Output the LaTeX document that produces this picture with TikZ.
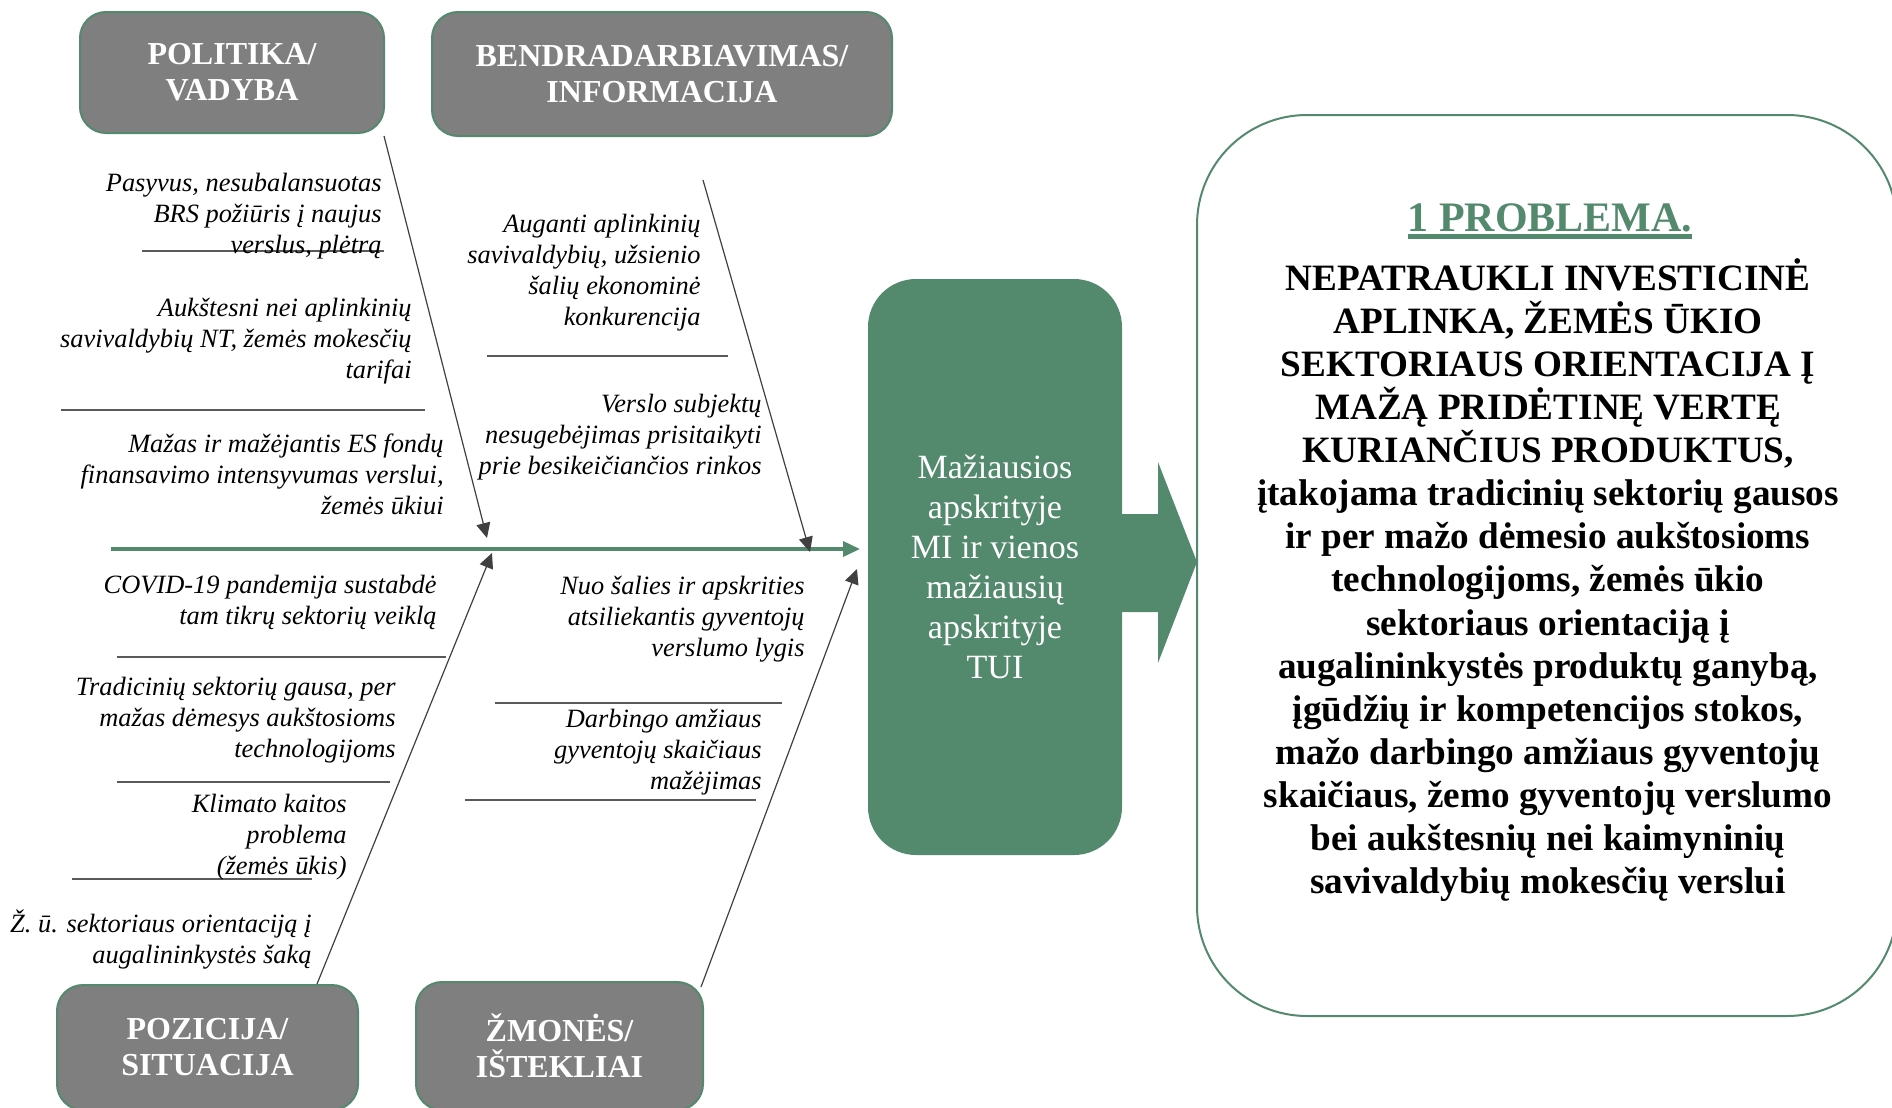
\documentclass[tikz,border=0pt]{standalone}
\usepackage{fontspec}
\setmainfont{Liberation Serif}
\usetikzlibrary{arrows.meta}
\definecolor{fbgreen}{RGB}{83,137,109}
\definecolor{boxgray}{RGB}{127,127,127}
\definecolor{bonegray}{RGB}{64,64,64}
\definecolor{linegray}{RGB}{89,89,89}
\newcommand\myul[1]{\vtop{\hbox{#1}\kern1.2pt\hrule height 2.4pt}}
\begin{document}
\begin{tikzpicture}[x=0.5pt,y=-0.5pt,
  catbox/.style={draw=fbgreen, line width=1pt, fill=boxgray, rounded corners=13pt,
    text=white, font=\bfseries\fontsize{16}{18}\selectfont, align=center, inner sep=0pt},
  cause/.style={font=\itshape\fontsize{13.2}{15.5}\selectfont, align=right, anchor=east, inner sep=0pt, yshift=-1pt},
  sepline/.style={draw=linegray, line width=0.8pt},
  bone/.style={draw=bonegray, line width=0.6pt, -{Triangle[length=7.5pt,width=7pt]}},
  spine/.style={draw=fbgreen, line width=1.8pt, -{Triangle[length=8.5pt,width=7.5pt]}},
]
\useasboundingbox (0,0) rectangle (1892,1108);
\clip (0,0) rectangle (1892,1108);

% category boxes
\node[catbox, minimum width=152pt, minimum height=60.5pt] (pol) at (232,72.5) {POLITIKA/\\VADYBA};
\node[catbox, minimum width=230pt, minimum height=62pt] (ben) at (662,74) {BENDRADARBIAVIMAS/\\INFORMACIJA};
\node[catbox, minimum width=150.5pt, minimum height=62.5pt] (poz) at (207.5,1047.5) {POZICIJA/\\SITUACIJA};
\node[catbox, minimum width=143.5pt, minimum height=64pt] (zmo) at (559.5,1046) {ŽMONĖS/\\IŠTEKLIAI};

% effect box
\node[fill=fbgreen, rounded corners=24pt, minimum width=127pt, minimum height=288pt, inner sep=0pt,
  text=white, font=\fontsize{17}{20}\selectfont, align=center] (eff) at (995,567)
  {Mažiausios\\apskrityje\\MI ir vienos\\mažiausių\\apskrityje\\TUI};

% big arrow
\fill[fbgreen] (1121,514) -- (1158,514) -- (1158,462) -- (1197,562) -- (1158,663) -- (1158,612) -- (1121,612) -- cycle;

% problem box
\node[draw=fbgreen, line width=1pt, rounded corners=55pt, minimum width=350pt, minimum height=450.5pt, inner sep=0pt] (prob) at (1547,565.5) {};
\node[font=\bfseries\fontsize{21}{25}\selectfont, text=fbgreen, anchor=base, inner sep=0pt] (head) at (1550,231) {\myul{1 PROBLEMA.}};
\node[font=\bfseries\fontsize{18.6}{21.55}\selectfont, align=center, inner sep=0pt] (body) at (1548,580)
  {NEPATRAUKLI INVESTICINĖ\\APLINKA, ŽEMĖS ŪKIO\\SEKTORIAUS ORIENTACIJA Į\\MAŽĄ PRIDĖTINĘ VERTĘ\\KURIANČIUS PRODUKTUS,\\
   įtakojama tradicinių sektorių gausos\\ir per mažo dėmesio aukštosioms\\technologijoms, žemės ūkio\\sektoriaus orientaciją į\\
   augalininkystės produktų ganybą,\\įgūdžių ir kompetencijos stokos,\\mažo darbingo amžiaus gyventojų\\skaičiaus, žemo gyventojų verslumo\\
   bei aukštesnių nei kaimyninių\\savivaldybių mokesčių verslui};

% spine and bone coordinates
\coordinate (spS) at (111,549);
\coordinate (spE) at (860,549);
\coordinate (tlS) at (384,136);
\coordinate (tlE) at (487,538);
\coordinate (trS) at (703,180);
\coordinate (trE) at (810,552);
\coordinate (blS) at (317,984);
\coordinate (blE) at (492,553);
\coordinate (brS) at (701,987);
\coordinate (brE) at (857,569);

% separator lines
\coordinate (h1a) at (142,251); \coordinate (h1b) at (384,251);
\coordinate (h2a) at (487,356); \coordinate (h2b) at (728,356);
\coordinate (h3a) at (61,410);  \coordinate (h3b) at (425,410);
\coordinate (h4a) at (117,657); \coordinate (h4b) at (446,657);
\coordinate (h5a) at (117,782); \coordinate (h5b) at (390,782);
\coordinate (h6a) at (72,879);  \coordinate (h6b) at (312,879);
\coordinate (h7a) at (495,703); \coordinate (h7b) at (782,703);
\coordinate (h8a) at (465,800); \coordinate (h8b) at (756,800);
\foreach \i in {1,...,8} \draw[sepline] (h\i a) -- (h\i b);

\draw[spine] (spS) -- (spE);
\draw[bone] (tlS) -- (tlE);
\draw[bone] (trS) -- (trE);
\draw[bone] (blS) -- (blE);
\draw[bone] (brS) -- (brE);

% cause texts
\node[cause] (c1) at (382,214) {Pasyvus, nesubalansuotas\\BRS požiūris į naujus\\verslus, plėtrą};
\node[cause] (c2) at (412,339) {Aukštesni nei aplinkinių\\savivaldybių NT, žemės mokesčių\\tarifai};
\node[cause] (c3) at (444,472) {Mažas ir mažėjantis ES fondų\\finansavimo intensyvumas verslui,\\žemės ūkiui};
\node[cause] (c4) at (701,271) {Auganti aplinkinių\\savivaldybių, užsienio\\šalių ekonominė\\konkurencija};
\node[cause] (c5) at (762,435) {Verslo subjektų\\nesugebėjimas prisitaikyti\\prie besikeičiančios rinkos};
\node[cause] (c6) at (437,600) {COVID-19 pandemija sustabdė\\tam tikrų sektorių veiklą};
\node[cause] (c7) at (396,718) {Tradicinių sektorių gausa, per\\mažas dėmesys aukštosioms\\technologijoms};
\node[cause] (c8) at (347,835) {Klimato kaitos\\problema\\(žemės ūkis)};
\node[cause] (c9) at (312,938) {Ž. ū. sektoriaus orientaciją į\\augalininkystės šaką};
\node[cause] (c10) at (805,617) {Nuo šalies ir apskrities\\atsiliekantis gyventojų\\verslumo lygis};
\node[cause] (c11) at (762,750) {Darbingo amžiaus\\gyventojų skaičiaus\\mažėjimas};
\end{tikzpicture}
\end{document}
